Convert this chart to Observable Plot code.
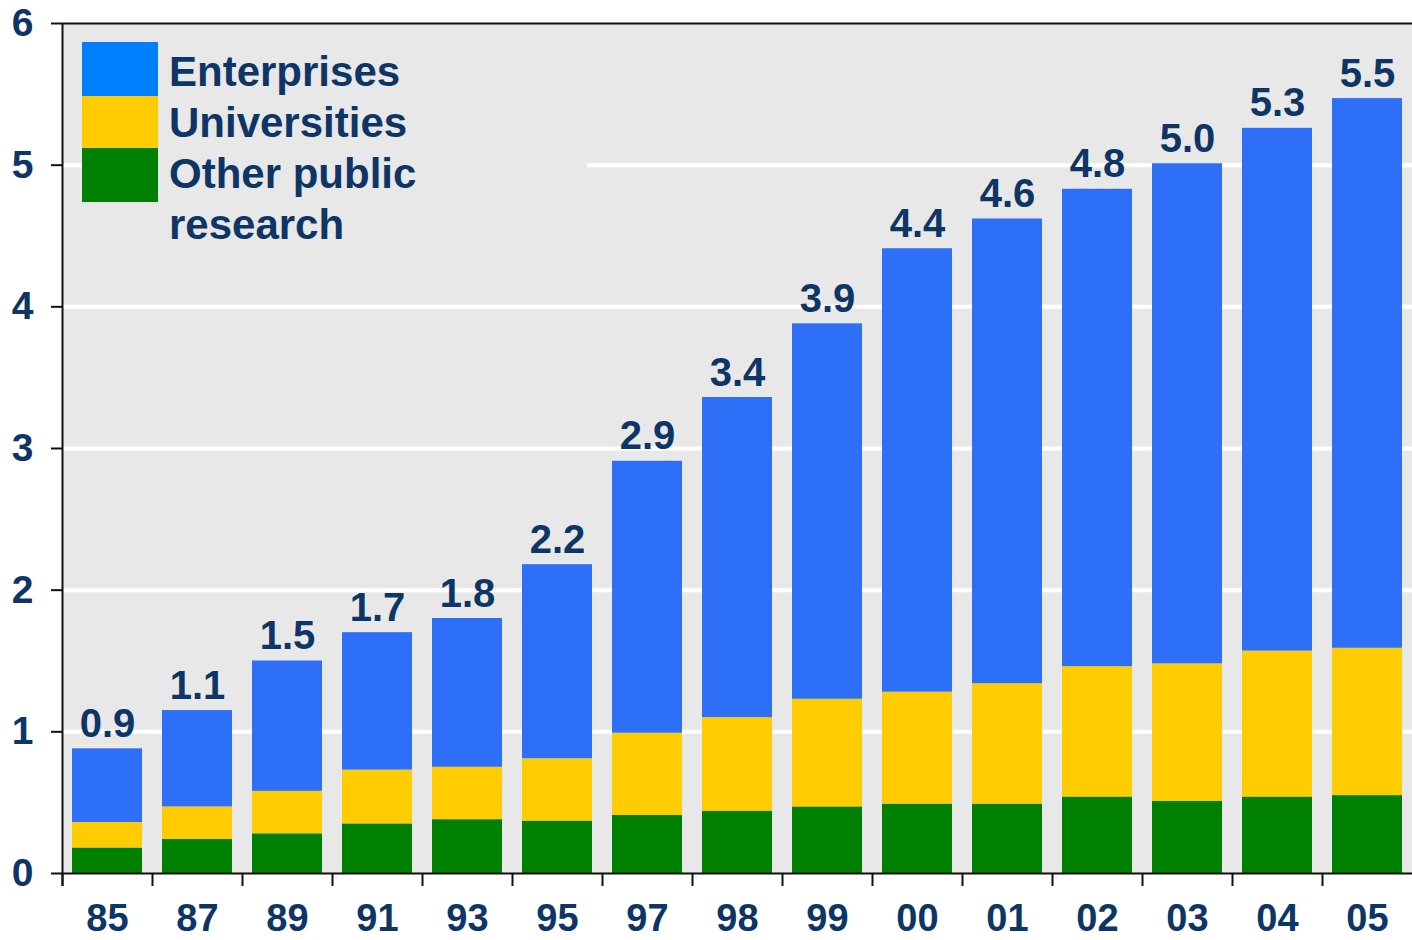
<!DOCTYPE html>
<html><head><meta charset="utf-8">
<script src="https://cdn.jsdelivr.net/npm/d3@7"></script>
<script src="https://cdn.jsdelivr.net/npm/@observablehq/plot@0.6"></script>
<style>
body{margin:0;background:#fff;font-family:"Liberation Sans",Arial,sans-serif;}
#wrap{position:relative;width:1412px;height:940px;}
#legend{position:absolute;left:82px;top:30px;width:505px;height:218px;background:#e8e8e8;}
#legend .sw{position:absolute;left:0;width:76px;}
#legend .txt{position:absolute;left:87px;top:16px;font-size:42px;line-height:51px;font-weight:bold;color:#0d3565;white-space:nowrap;}
</style>
</head><body>
<div id="wrap"><div id="chart"></div>
<div id="legend"></div>
</div>
<script>
const years = ["85","87","89","91","93","95","97","98","99","00","01","02","03","04","05"];
const otherPublic = [0.18,0.24,0.28,0.35,0.38,0.37,0.41,0.44,0.47,0.49,0.49,0.54,0.51,0.54,0.55];
const universities = [0.18,0.23,0.30,0.38,0.37,0.44,0.58,0.66,0.76,0.79,0.85,0.92,0.97,1.03,1.04];
const enterprises = [0.52,0.68,0.92,0.97,1.05,1.37,1.92,2.26,2.65,3.13,3.28,3.37,3.53,3.69,3.88];
const totalLabels = ["0.9","1.1","1.5","1.7","1.8","2.2","2.9","3.4","3.9","4.4","4.6","4.8","5.0","5.3","5.5"];
const sectors = ["Other public research","Universities","Enterprises"];
const barColors = ["#008000","#ffcc00","#2d6ff7"];
const legendItems = ["Enterprises","Universities","Other public","research"];
const legendSwatches = [{color:"#0080ff",h:54},{color:"#ffcc00",h:52},{color:"#008000",h:54}];
const yTicks = [0,1,2,3,4,5,6];
const gridTicks = [1,2,3,4,5];

const rows = years.flatMap((y,i)=>[
  {year:y, sector:sectors[0], value:otherPublic[i]},
  {year:y, sector:sectors[1], value:universities[i]},
  {year:y, sector:sectors[2], value:enterprises[i]}
]);
const totals = years.map((y,i)=>({year:y, total:otherPublic[i]+universities[i]+enterprises[i], label:totalLabels[i]}));

const W = 1412, H = 940, mL = 62, mR = 0;
const step = (W - mL - mR) / years.length;
const ink = "#0d3565";

const chart = Plot.plot({
  width: W, height: H,
  marginLeft: mL, marginRight: mR, marginTop: 23, marginBottom: 67,
  x: {domain: years, paddingInner: 0.222, paddingOuter: 0.111, label: null},
  y: {domain: [0,6], label: null},
  color: {domain: sectors, range: barColors},
  style: {fontFamily: "'Liberation Sans', Arial, sans-serif", fontWeight: "bold", fontSize: "39px", color: ink, background: "white", overflow: "visible"},
  marks: [
    Plot.frame({fill: "#e8e8e8", stroke: null}),
    Plot.gridY(gridTicks, {stroke: "white", strokeOpacity: 1, strokeWidth: 4}),
    Plot.barY(rows, {x: "year", y: "value", fill: "sector"}),
    Plot.text(totals, {x: "year", y: "total", text: "label", lineAnchor: "bottom", dy: -12, fill: ink, fontSize: 40, fontWeight: "bold"}),
    Plot.axisY(yTicks, {tickSize: 11, tickPadding: 18, tickFormat: d => String(d), stroke: "#111", strokeWidth: 2, fill: ink, fontSize: 39, fontWeight: "bold", label: null}),
    Plot.axisX({tickSize: 0, tickPadding: 31, fill: ink, fontSize: 38, fontWeight: "bold", label: null}),
    Plot.ruleY([0, 6], {stroke: "#111", strokeWidth: 2}),
    Plot.ruleX(years, {x: d => d, dx: -step/2, y1: 0, y2: 0, insetBottom: -13, stroke: "#111", strokeWidth: 2}),
    Plot.ruleX([years[0]], {x: d => d, dx: -step/2, y1: 6, y2: 0, insetBottom: -13, stroke: "#111", strokeWidth: 2})
  ]
});
document.getElementById("chart").appendChild(chart);

const legendBox = document.getElementById("legend");
let swTop = 12;
legendSwatches.forEach(s => {
  const d = document.createElement("div");
  d.className = "sw";
  d.style.top = swTop + "px";
  d.style.height = s.h + "px";
  d.style.background = s.color;
  legendBox.appendChild(d);
  swTop += s.h;
});
const txt = document.createElement("div");
txt.className = "txt";
txt.innerHTML = legendItems.map(s => `<div>${s}</div>`).join("");
legendBox.appendChild(txt);
</script>
</body></html>
